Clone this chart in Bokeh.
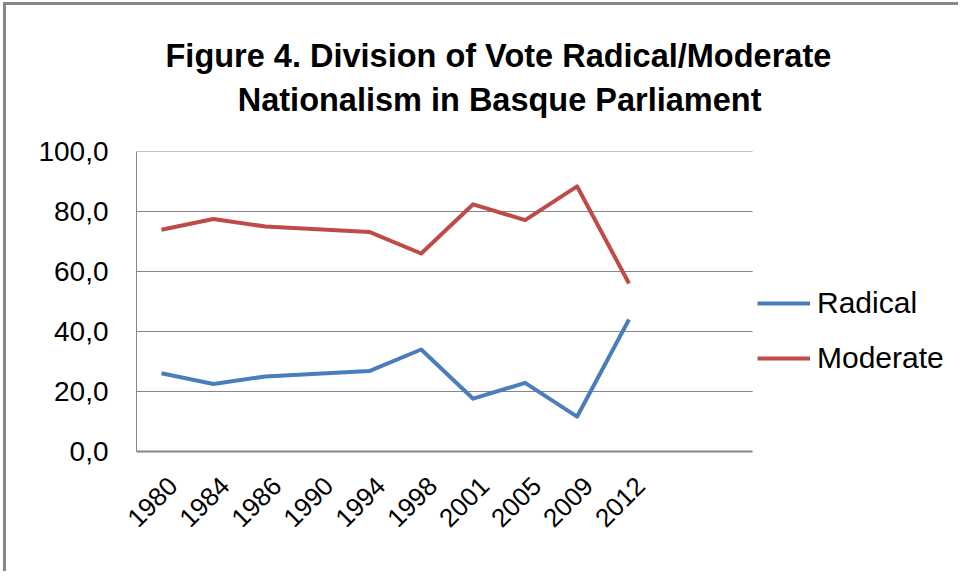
import math
from bokeh.plotting import figure
from bokeh.models import (Range1d, FixedTicker, CustomJSTickFormatter, Legend,
                          LegendItem, Title)
from bokeh.embed import file_html
from bokeh.resources import INLINE

# ---- data ----
years = ["1980", "1984", "1986", "1990", "1994", "1998", "2001", "2005", "2009", "2012"]
radical = [26.1, 22.5, 25.0, 25.9, 26.8, 34.0, 17.6, 22.9, 11.6, 44.0]
moderate = [73.9, 77.5, 75.0, 74.1, 73.2, 66.0, 82.4, 77.1, 88.4, 56.0]
y_ticks = [0, 20, 40, 60, 80, 100]
title_line1 = "Figure 4. Division of Vote Radical/Moderate"
title_line2 = "Nationalism in Basque Parliament"

xs = list(range(len(years)))
FONT = "Liberation Sans"
GRAY = "#868686"
BLUE = "#4A7EBB"
RED = "#BE4B48"
LABEL_SHIFT = 0.22          # Excel-like placement of rotated category labels
X_START, X_AREA_END, X_END = -0.48, 11.38, 15.4   # plot area ends at X_AREA_END; legend lives beyond

p = figure(width=955, height=569, output_backend="svg", toolbar_location=None,
           tools="", title_location=None,
           x_range=Range1d(X_START, X_END), y_range=Range1d(0, 100),
           min_border_left=130, min_border_right=0, min_border_top=146,
           min_border_bottom=123)
# chart-area frame on the left and top edges (as in the original chart box)
p.styles = {"margin-left": "6px", "margin-top": "5px",
            "box-shadow": "-3px -3px 0 0 #878787"}
p.outline_line_color = None
p.background_fill_color = "white"
p.border_fill_color = "white"

# horizontal gridlines, limited to the plot area
p.xgrid.grid_line_color = None
p.ygrid.grid_line_color = None
p.segment(x0=[X_START] * len(y_ticks), y0=y_ticks,
          x1=[X_AREA_END] * len(y_ticks), y1=y_ticks,
          line_color=GRAY, line_width=1)

# y axis
p.yaxis.ticker = FixedTicker(ticks=y_ticks)
p.yaxis.formatter = CustomJSTickFormatter(code="return tick.toFixed(1).replace('.', ',');")
p.yaxis.axis_line_color = GRAY
p.yaxis.axis_line_width = 1
p.yaxis.major_tick_line_color = None
p.yaxis.minor_tick_line_color = None
p.yaxis.major_tick_out = 0
p.yaxis.major_tick_in = 0
p.yaxis.major_label_standoff = 28
p.yaxis.major_label_text_font = FONT
p.yaxis.major_label_text_font_size = "28px"
p.yaxis.major_label_text_color = "black"

# x axis (category labels)
p.xaxis.bounds = (X_START, X_AREA_END)
p.xaxis.ticker = FixedTicker(ticks=[i + LABEL_SHIFT for i in xs])
p.xaxis.formatter = CustomJSTickFormatter(
    args=dict(labels=years, shift=LABEL_SHIFT),
    code="return labels[Math.round(tick - shift)];")
p.xaxis.axis_line_color = GRAY
p.xaxis.axis_line_width = 2
p.xaxis.major_tick_line_color = None
p.xaxis.minor_tick_line_color = None
p.xaxis.major_tick_out = 0
p.xaxis.major_tick_in = 0
p.xaxis.major_label_orientation = math.pi / 4
p.xaxis.major_label_standoff = 30
p.xaxis.major_label_text_font = FONT
p.xaxis.major_label_text_font_size = "26px"
p.xaxis.major_label_text_color = "black"

r1 = p.line(xs, radical, line_color=BLUE, line_width=4, line_join="round")
r2 = p.line(xs, moderate, line_color=RED, line_width=4, line_join="round")

legend = Legend(items=[LegendItem(label="Radical", renderers=[r1]),
                       LegendItem(label="Moderate", renderers=[r2])],
                location=(621, 76), orientation="vertical",
                glyph_width=53, glyph_height=34, label_height=34,
                label_standoff=7, spacing=21, padding=0, margin=0,
                label_text_font=FONT, label_text_font_size="30px",
                label_text_color="black",
                border_line_color=None, background_fill_alpha=0)
p.add_layout(legend)

# two-line title; second line indented with no-break spaces to centre it
indent = "\u00a0" * 8
p.add_layout(Title(text=title_line1 + "\n" + indent + title_line2,
                   align="left", offset=29, vertical_align="top", standoff=64,
                   text_font=FONT, text_font_style="bold",
                   text_font_size="32.5px", text_color="black",
                   text_line_height=1.226), "above")

open("out.html", "w").write(file_html(p, INLINE))
